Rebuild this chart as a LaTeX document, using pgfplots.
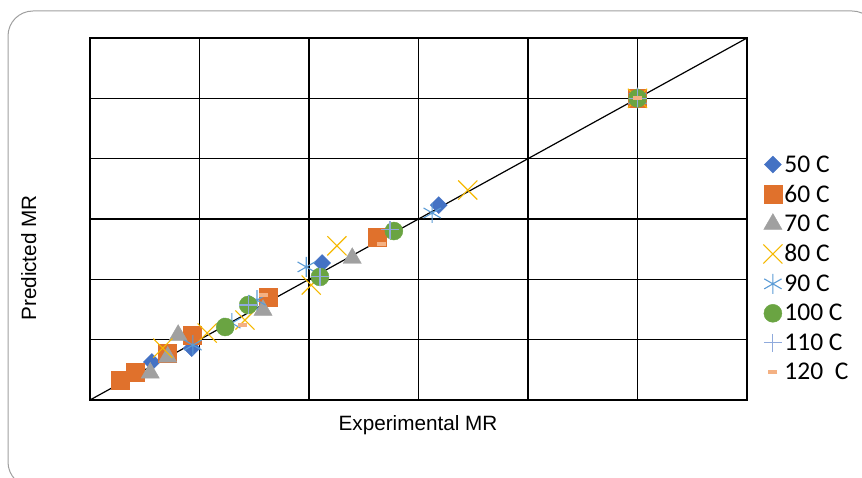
\documentclass[border=0pt]{standalone}
\usepackage{fontspec}
\setmainfont{Liberation Sans}
\newfontfamily\calibri{Carlito}
\usepackage{pgfplots}
\pgfplotsset{compat=1.18}
\definecolor{c50}{HTML}{4472C4}
\definecolor{c60}{HTML}{E0712C}
\definecolor{c70}{HTML}{A0A0A0}
\definecolor{c80}{HTML}{F5B800}
\definecolor{c90}{HTML}{5B9BD5}
\definecolor{c100}{HTML}{6AA442}
\definecolor{c110}{HTML}{8FAADC}
\definecolor{c120}{HTML}{F4B183}
\begin{document}
\begin{tikzpicture}
\begin{axis}[
  at={(90pt,77pt)}, anchor=south west,
  scale only axis, width=657pt, height=362pt,
  xmin=0, xmax=1.2, ymin=0, ymax=1.2,
  xtick={0,0.2,0.4,0.6,0.8,1.0,1.2}, ytick={0,0.2,0.4,0.6,0.8,1.0,1.2},
  xticklabels={}, yticklabels={},
  major tick length=0pt,
  grid=major,
  major grid style={black, line width=1.1pt},
  axis line style={black, line width=1.1pt},
  clip=false,
  legend style={at={(1.02,0.687)}, anchor=north west, draw=none, fill=none,
    font=\calibri\fontsize{25.5}{27}\selectfont, row sep=7.4pt,
    /tikz/every even column/.append style={column sep=3pt}},
  legend cell align=left,
  legend image code/.code={\draw[only marks,#1] plot coordinates {(0pt,0pt)};},
]
\addplot[only marks, mark=square*, mark size=6pt, mark options={rotate=45, fill=c50, draw=c50}]
 coordinates {(0.113,0.126)(0.186,0.172)(0.424,0.454)(0.637,0.646)(1.0,1.0)};
\addlegendentry{50 C}
\addplot[only marks, mark=square*, mark size=9pt, mark options={fill=c60, draw=c60}]
 coordinates {(0.055,0.066)(0.082,0.093)(0.141,0.156)(0.186,0.215)(0.325,0.341)(0.524,0.540)(1.0,1.0)};
\addlegendentry{60 C}
\addplot[only marks, mark=triangle*, mark size=10.5pt, mark options={fill=c70, draw=c70}]
 coordinates {(0.110,0.090)(0.142,0.143)(0.161,0.215)(0.316,0.298)(0.479,0.470)(1.0,1.0)};
\addlegendentry{70 C}
\addplot[only marks, mark=x, mark size=13.5pt, mark options={draw=c80, line width=1.1pt}]
 coordinates {(0.133,0.172)(0.214,0.222)(0.283,0.265)(0.404,0.381)(0.451,0.511)(0.690,0.696)(1.0,1.0)};
\addlegendentry{80 C}
\addplot[only marks, mark=asterisk, mark size=10pt, mark options={draw=c90, line width=1.1pt}]
 coordinates {(0.188,0.182)(0.259,0.255)(0.305,0.331)(0.395,0.441)(0.625,0.620)(1.0,1.0)};
\addlegendentry{90 C}
\addplot[only marks, mark=*, mark size=9pt, mark options={fill=c100, draw=c100}]
 coordinates {(0.247,0.242)(0.289,0.315)(0.420,0.408)(0.555,0.560)(1.0,1.0)};
\addlegendentry{100 C}
\addplot[only marks, mark=+, mark size=9pt, mark options={draw=c110, line width=1.1pt}]
 coordinates {(0.289,0.315)(0.420,0.408)(0.548,0.564)(1.0,1.0)};
\addlegendentry{110 C}
\addplot[only marks, mark=-, mark size=4.5pt, mark options={draw=c120, line width=4pt}]
 coordinates {(0.278,0.249)(0.316,0.348)(0.533,0.517)(1.0,1.0)};
\addlegendentry{120~ C}
\addplot[black, line width=1.2pt, forget plot] coordinates {(0,0)(1.2,1.2)};
\end{axis}
\node[anchor=base, font=\fontsize{20.7}{24}\selectfont] at (418pt,47pt) {Experimental MR};
\node[anchor=base, rotate=90, font=\fontsize{20.7}{24}\selectfont] at (36pt,219pt) {Predicted MR};
\draw[gray!75, line width=1pt, rounded corners=25pt] (8pt,-10pt) rectangle (877pt,466pt);
\pgfresetboundingbox
\path[use as bounding box] (0,0) rectangle (862pt,477pt);
\end{tikzpicture}
\end{document}
